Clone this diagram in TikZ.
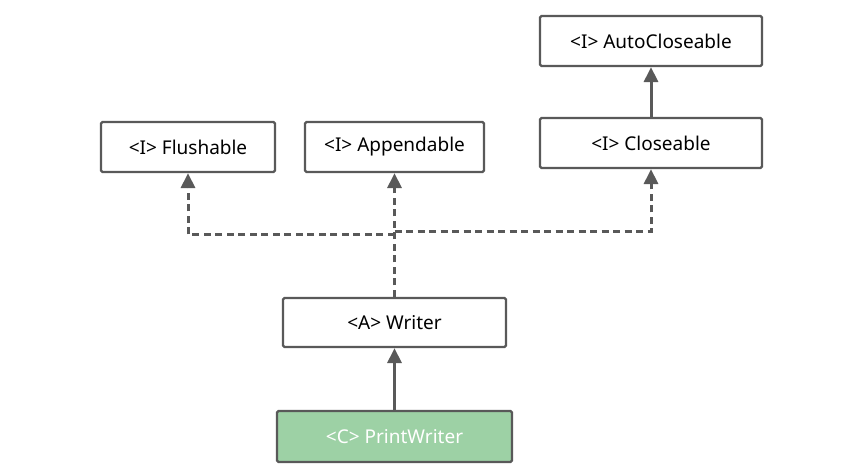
\documentclass[tikz,border=0pt]{standalone}
\usepackage{fontspec}
\setmainfont{Noto Sans}
\usetikzlibrary{arrows.meta}
\definecolor{lc}{HTML}{595959}
\definecolor{gfill}{HTML}{9DD1A5}
\tikzset{
  box/.style={draw=lc, line width=2.2pt, rounded corners=1.5pt, fill=white, inner sep=0pt, font=\fontsize{19}{22}\selectfont, text=black},
  inh/.style={draw=lc, line width=3pt, -{Triangle[length=15pt,width=14pt]}},
  impl/.style={inh, dash pattern=on 7pt off 4.5pt},
}
\begin{document}
\begin{tikzpicture}[x=1pt,y=-1pt]
\useasboundingbox (0,0) rectangle (860,470);
\node[box, minimum width=174pt, minimum height=50pt] (flush) at (188,147) {<I> Flushable};
\node[box, minimum width=179pt, minimum height=50pt] (app) at (394.5,147) {<I> Appendable};
\node[box, minimum width=222pt, minimum height=50pt] (auto) at (651,41) {<I> AutoCloseable};
\node[box, minimum width=222pt, minimum height=50pt] (close) at (651,143) {<I> Closeable};
\node[box, minimum width=223pt, minimum height=49pt] (writer) at (394.5,322.5) {<A> Writer};
\node[box, fill=gfill, text=white, minimum width=235pt, minimum height=51pt] (pw) at (394.5,436.5) {<C> PrintWriter};
\coordinate (jl) at (394.5,235);
\coordinate (jr) at (394.5,232);
\draw[inh] (pw) -- (writer);
\draw[inh] (close) -- (auto);
\draw[impl] (writer) -- (app);
\draw[impl] (jl) -| (flush);
\draw[impl] (jr) -| (close);
\end{tikzpicture}
\end{document}
